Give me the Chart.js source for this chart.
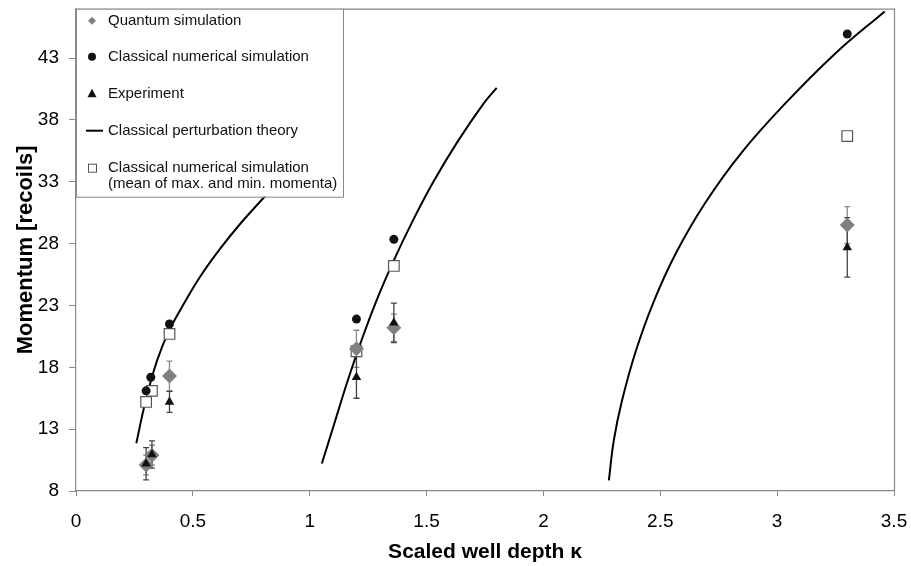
<!DOCTYPE html>
<html>
<head>
<meta charset="utf-8">
<script src="https://cdn.jsdelivr.net/npm/chart.js@4.4.1/dist/chart.umd.min.js"></script>
<style>
  body { margin: 0; background: #fff; }
</style>
</head>
<body>
<canvas id="momentumChart" width="911" height="566"></canvas>
<script>
// values
const depthQuantum = [0.3, 0.325, 0.4, 1.2, 1.36, 3.3];
const momentumQuantum = [10.1, 10.9, 17.3, 19.5, 21.2, 29.5];
const errQuantum = [0.8, 0.8, 1.2, 1.5, 1.1, 1.5];

const depthClassical = [0.3, 0.32, 0.4, 1.2, 1.36, 3.3];
const momentumClassical = [16.1, 17.2, 21.5, 21.9, 28.35, 44.95];

const depthExperiment = [0.3, 0.325, 0.4, 1.2, 1.36, 3.3];
const momentumExperiment = [10.2, 10.95, 15.2, 17.2, 21.6, 27.7];
const errExperiment = [1.3, 1.1, 0.85, 1.7, 1.6, 2.4];

const depthMean = [0.3, 0.325, 0.4, 1.2, 1.36, 3.3];
const momentumMean = [15.2, 16.1, 20.7, 19.3, 26.2, 36.7];

// classical perturbation theory, three branches
const curve1X = [0.258, 0.298, 0.346, 0.397, 0.467, 0.531, 0.617, 0.703, 0.798, 0.895];
const curve1Y = [11.86, 15.29, 18.5, 20.91, 23.32, 25.33, 27.6, 29.61, 31.61, 33.6];
const curve2X = [1.052, 1.109, 1.162, 1.22, 1.284, 1.357, 1.438, 1.528, 1.63, 1.746, 1.8];
const curve2Y = [10.22, 13.68, 16.89, 20.1, 23.32, 26.53, 29.74, 32.96, 36.17, 39.38, 40.59];
const curve3X = [2.28, 2.301, 2.336, 2.395, 2.472, 2.57, 2.694, 2.848, 3.037, 3.25, 3.46];
const curve3Y = [8.86, 12.08, 15.29, 19.3, 23.32, 27.34, 31.35, 35.37, 39.38, 43.4, 46.78];

const yTicks = [8, 13, 18, 23, 28, 33, 38, 43];

const legendLabels = [
    'Quantum simulation',
    'Classical numerical simulation',
    'Experiment',
    'Classical perturbation theory',
    'Classical numerical simulation',
    '(mean of max. and min. momenta)'
];

function toPoints(xs, ys) {
    return xs.map((x, i) => ({ x: x, y: ys[i] }));
}

function curve(xs, ys) {
    return {
        data: toPoints(xs, ys),
        showLine: true,
        pointRadius: 0,
        borderColor: '#000',
        borderWidth: 2,
        tension: 0.4,
        order: 10
    };
}

// vertical error bars, drawn under the markers
const errorBars = {
    id: 'errorBars',
    beforeDatasetsDraw(chart) {
        const ctx = chart.ctx;
        const x = chart.scales.x, y = chart.scales.y;
        function bars(xs, ys, errs, color) {
            ctx.save();
            ctx.strokeStyle = color;
            ctx.lineWidth = 1.3;
            xs.forEach((v, i) => {
                const px = x.getPixelForValue(v);
                const top = y.getPixelForValue(ys[i] + errs[i]);
                const bot = y.getPixelForValue(ys[i] - errs[i]);
                ctx.beginPath();
                ctx.moveTo(px, top); ctx.lineTo(px, bot);
                ctx.moveTo(px - 3, top); ctx.lineTo(px + 3, top);
                ctx.moveTo(px - 3, bot); ctx.lineTo(px + 3, bot);
                ctx.stroke();
            });
            ctx.restore();
        }
        bars(depthQuantum, momentumQuantum, errQuantum, '#8a8a8a');
        bars(depthExperiment, momentumExperiment, errExperiment, '#444');
    }
};

// top and right frame of the plot area
const plotFrame = {
    id: 'plotFrame',
    afterDraw(chart) {
        const { ctx, chartArea: a } = chart;
        ctx.save();
        ctx.strokeStyle = '#888';
        ctx.lineWidth = 1.2;
        ctx.beginPath();
        ctx.moveTo(a.left, a.top + 0.5);
        ctx.lineTo(a.right + 0.5, a.top + 0.5);
        ctx.lineTo(a.right + 0.5, a.bottom);
        ctx.stroke();
        ctx.restore();
    }
};

// legend box sitting in the top left corner of the plot
const boxLegend = {
    id: 'boxLegend',
    afterDraw(chart) {
        const { ctx, chartArea: a } = chart;
        const left = a.left, top = a.top;
        const w = 267, h = 188;
        ctx.save();
        ctx.fillStyle = '#fff';
        ctx.fillRect(left, top, w, h);
        ctx.strokeStyle = '#888';
        ctx.lineWidth = 1;
        ctx.strokeRect(left + 0.5, top + 0.5, w, h);

        const mx = left + 16, tx = left + 32;
        const rows = [12, 48, 85, 122, 159, 175].map(r => top + r);

        // diamond
        ctx.fillStyle = '#808080';
        ctx.beginPath();
        ctx.moveTo(mx, rows[0] - 4); ctx.lineTo(mx + 4, rows[0]);
        ctx.lineTo(mx, rows[0] + 4); ctx.lineTo(mx - 4, rows[0]);
        ctx.closePath(); ctx.fill();
        // circle
        ctx.fillStyle = '#111';
        ctx.beginPath(); ctx.arc(mx, rows[1], 4, 0, Math.PI * 2); ctx.fill();
        // triangle
        ctx.beginPath();
        ctx.moveTo(mx, rows[2] - 5); ctx.lineTo(mx + 4.5, rows[2] + 3.5);
        ctx.lineTo(mx - 4.5, rows[2] + 3.5); ctx.closePath(); ctx.fill();
        // line
        ctx.strokeStyle = '#000'; ctx.lineWidth = 2;
        ctx.beginPath(); ctx.moveTo(mx - 6, rows[3]); ctx.lineTo(mx + 11, rows[3]); ctx.stroke();
        // open square
        ctx.fillStyle = '#fff'; ctx.strokeStyle = '#555'; ctx.lineWidth = 1;
        ctx.fillRect(mx - 3.5, rows[4] - 3.5, 8, 8);
        ctx.strokeRect(mx - 3.5, rows[4] - 3.5, 8, 8);

        ctx.fillStyle = '#111';
        ctx.font = '15px "Liberation Sans", Arial, sans-serif';
        ctx.textBaseline = 'middle';
        legendLabels.forEach((t, i) => ctx.fillText(t, tx, rows[i]));
        ctx.restore();
    }
};

const ctx = document.getElementById('momentumChart').getContext('2d');
const momentumChart = new Chart(ctx, {
    type: 'scatter',
    data: {
        datasets: [
            curve(curve1X, curve1Y),
            curve(curve2X, curve2Y),
            curve(curve3X, curve3Y),
            {
                label: 'Classical numerical simulation (mean of max. and min. momenta)',
                data: toPoints(depthMean, momentumMean),
                pointStyle: 'rect',
                pointRadius: 7.5,
                backgroundColor: '#fff',
                borderColor: '#555',
                borderWidth: 1.2,
                order: 5
            },
            {
                label: 'Classical numerical simulation',
                data: toPoints(depthClassical, momentumClassical),
                pointStyle: 'circle',
                pointRadius: 4.5,
                backgroundColor: '#111',
                borderColor: '#111',
                borderWidth: 0,
                order: 4
            },
            {
                label: 'Quantum simulation',
                data: toPoints(depthQuantum, momentumQuantum),
                pointStyle: 'rectRot',
                pointRadius: 7.5,
                backgroundColor: '#808080',
                borderColor: '#808080',
                borderWidth: 0,
                order: 3
            },
            {
                label: 'Experiment',
                data: toPoints(depthExperiment, momentumExperiment),
                pointStyle: 'triangle',
                pointRadius: 5.5,
                backgroundColor: '#111',
                borderColor: '#111',
                borderWidth: 0,
                order: 2
            }
        ]
    },
    options: {
        responsive: false,
        animation: false,
        events: [],
        layout: { padding: { top: 5, right: 17, left: 0, bottom: 0 } },
        plugins: {
            legend: { display: false },
            tooltip: { enabled: false }
        },
        scales: {
            x: {
                type: 'linear',
                min: 0,
                max: 3.5,
                ticks: {
                    stepSize: 0.5,
                    color: '#000',
                    padding: 14,
                    callback: v => String(v),
                    font: { family: '"Liberation Sans", Arial, sans-serif', size: 19 }
                },
                grid: { drawOnChartArea: false, drawTicks: true, tickLength: 5, color: '#888' },
                border: { color: '#888', width: 1.2 },
                title: {
                    display: true,
                    text: 'Scaled well depth κ',
                    color: '#000',
                    padding: { top: 0, bottom: 1 },
                    font: { family: '"Liberation Sans", Arial, sans-serif', size: 21, weight: 'bold' }
                },
                afterFit(scale) {
                    scale.height = 75;
                    scale.paddingLeft = 0;
                    scale.paddingRight = 0;
                }
            },
            y: {
                type: 'linear',
                min: 8,
                max: 47,
                afterBuildTicks(scale) {
                    scale.ticks = yTicks.map(v => ({ value: v }));
                },
                ticks: {
                    color: '#000',
                    padding: 10,
                    font: { family: '"Liberation Sans", Arial, sans-serif', size: 19 }
                },
                grid: { drawOnChartArea: false, drawTicks: true, tickLength: 7, color: '#888' },
                border: { color: '#888', width: 1.2 },
                title: {
                    display: true,
                    text: 'Momentum [recoils]',
                    color: '#000',
                    padding: { top: 13, bottom: 0 },
                    font: { family: '"Liberation Sans", Arial, sans-serif', size: 22, weight: 'bold' }
                },
                afterFit(scale) {
                    scale.width = 76;
                    scale.paddingTop = 0;
                    scale.paddingBottom = 0;
                }
            }
        }
    },
    plugins: [errorBars, plotFrame, boxLegend]
});
</script>
</body>
</html>
